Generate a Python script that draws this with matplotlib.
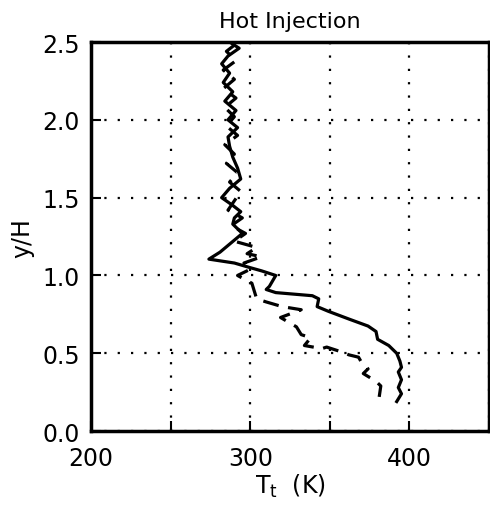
from matplotlib import pyplot as plt
import numpy as np

# solid line (T in K, y/H)
t_solid = [287, 293, 286, 282, 287, 283, 289, 284, 291, 286, 292, 286, 287, 289, 292, 294,
           287, 282, 289, 294, 290, 289, 295, 288, 281, 274, 290, 300, 307, 316, 312, 310,
           316, 339, 343, 342, 349, 362, 374, 379, 380, 387, 392, 394, 395, 393, 395, 393,
           395, 392]
y_solid = [2.50, 2.46, 2.41, 2.36, 2.30, 2.24, 2.18, 2.12, 2.06, 2.00, 1.95, 1.89, 1.83, 1.76,
           1.69, 1.62, 1.56, 1.50, 1.45, 1.41, 1.37, 1.33, 1.27, 1.21, 1.15, 1.105, 1.08, 1.05,
           1.03, 1.00, 0.93, 0.91, 0.89, 0.87, 0.85, 0.80, 0.77, 0.72, 0.675, 0.64, 0.59, 0.55,
           0.50, 0.45, 0.41, 0.38, 0.33, 0.28, 0.24, 0.19]

# dashed line
t_dash = [290, 285, 291, 283, 290, 283, 291, 284, 290, 285, 292, 284, 290, 285, 292, 287,
          294, 290, 286, 295, 288, 297, 290, 304, 298, 307, 296, 300, 292, 301, 304, 310,
          320, 332, 319, 329, 332, 338, 334, 345, 348, 357, 362, 368, 370, 374, 371, 379,
          382, 381]
y_dash = [2.48, 2.44, 2.38, 2.32, 2.26, 2.20, 2.14, 2.08, 2.02, 1.96, 1.90, 1.84, 1.78, 1.72,
          1.66, 1.60, 1.54, 1.48, 1.42, 1.37, 1.32, 1.27, 1.22, 1.18, 1.14, 1.12, 1.08, 1.04,
          1.00, 0.95, 0.85, 0.83, 0.80, 0.78, 0.73, 0.67, 0.62, 0.60, 0.55, 0.53, 0.54, 0.51,
          0.49, 0.475, 0.44, 0.40, 0.37, 0.32, 0.29, 0.22]

x_ticks = [200, 250, 300, 350, 400, 450]
x_labels = ['200', '', '300', '', '400', '']
y_ticks = [0.0, 0.5, 1.0, 1.5, 2.0, 2.5]
y_labels = ['0.0', '0.5', '1.0', '1.5', '2.0', '2.5']

fig = plt.figure(figsize=(4.9, 5.06), dpi=100)
ax = fig.add_axes([0.186, 0.146, 0.812, 0.769])

ax.plot(t_solid, y_solid, 'k-', lw=2.3)
ax.plot(t_dash, y_dash, 'k-', lw=2.3, dashes=(5, 3))

ax.set_xlim(200, 450)
ax.set_ylim(0, 2.5)
ax.set_xticks(x_ticks)
ax.set_xticklabels(x_labels, fontsize=17)
ax.set_yticks(y_ticks)
ax.set_yticklabels(y_labels, fontsize=17)
ax.tick_params(direction='in', length=7, width=1.5)
ax.tick_params(axis='x', pad=11)
ax.tick_params(axis='y', pad=8)
ax.grid(True, color='k', linestyle=(0, (1, 5)), linewidth=1.6)

for s in ax.spines.values():
    s.set_linewidth(2.5)

ax.set_title('Hot Injection', fontsize=16, pad=11)
ax.set_xlabel('T$_\\mathregular{t}$  (K)', fontsize=17, labelpad=1)
ax.set_ylabel('y/H', fontsize=17, labelpad=6)

fig.savefig('out.png', dpi=100)
